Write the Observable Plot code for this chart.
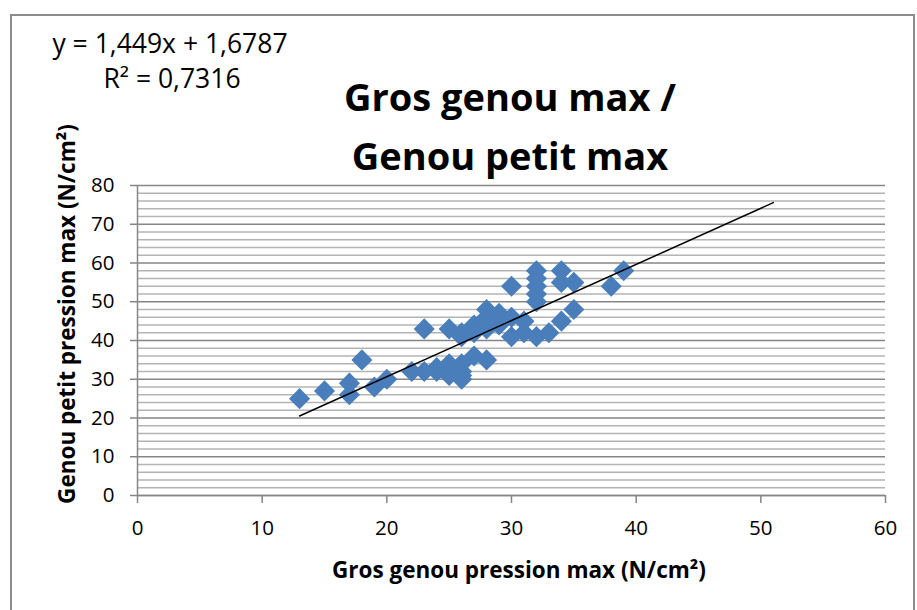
<!DOCTYPE html>
<html><head><meta charset="utf-8">
<script src="https://cdn.jsdelivr.net/npm/d3@7"></script>
<script src="https://cdn.jsdelivr.net/npm/@observablehq/plot@0.6"></script>
<style>
body{margin:0;background:#fff;}
#wrap{position:relative;width:917px;height:610px;overflow:hidden;font-family:"Open Sans",Lato,sans-serif;}
.frame{position:absolute;left:10px;top:14px;width:905px;height:620px;border:2px solid #8c8c8c;box-sizing:border-box;}
.t{position:absolute;white-space:nowrap;transform:translate(-50%,-50%);color:#000;line-height:1;}
#chart{position:absolute;left:0;top:0;}
</style></head><body>
<div id="wrap">
  <div class="frame"></div>
  <div id="chart"></div>
  <div class="t" style="left:170px;top:43px;font-size:26.5px;">y = 1,449x + 1,6787</div>
  <div class="t" style="left:172px;top:78px;font-size:26.5px;">R² = 0,7316</div>
  <div class="t" style="left:510px;top:96px;font-size:38px;font-weight:bold;">Gros genou max /</div>
  <div class="t" style="left:510px;top:155px;font-size:38px;font-weight:bold;">Genou petit max</div>
  <div class="t" style="left:519px;top:570px;font-size:22.5px;font-weight:bold;">Gros genou pression max (N/cm²)</div>
  <div class="t" style="left:67px;top:314px;font-size:22.5px;font-weight:bold;transform:translate(-50%,-50%) rotate(-90deg);">Genou petit pression max (N/cm²)</div>
</div>
<script>
// Data
const grosGenou = [13,15,17,17,18,19,20,22,23,23,24,24,25,25,25,25,26,26,26,26,26,26,27,27,27,28,28,28,28,29,29,30,30,30,31,31,32,32,32,32,32,32,33,34,34,34,35,35,38,39];
const genouPetit = [25,27,29,26,35,28,30,32,43,32,32,33,43,33,31,34,42,41,34,32,30,31,36,42,44,48,46,43,35,47,44,54,46,41,45,42,58,56,54,52,50,41,42,58,55,45,55,48,54,58];
const trendSlope = 1.449;
const trendIntercept = 1.6787;
const trendRange = [13, 51];
const xTicks = [0,10,20,30,40,50,60];
const yTicks = [0,10,20,30,40,50,60,70,80];
const yMinor = d3.range(0, 81, 2).filter(v => v % 10 !== 0);

const points = grosGenou.map((x, i) => ({x, y: genouPetit[i]}));
const trend = trendRange.map(x => ({x, y: trendSlope * x + trendIntercept}));

const chart = Plot.plot({
  width: 917, height: 610,
  marginLeft: 137, marginRight: 32, marginTop: 185, marginBottom: 115,
  style: {fontFamily: "'Open Sans', Lato, sans-serif", fontSize: "20px", color: "#000", background: "transparent", overflow: "visible"},
  x: {domain: [0, 60]},
  y: {domain: [0, 80]},
  marks: [
    Plot.gridY(yMinor, {stroke: "#b4b4b4", strokeOpacity: 1, strokeWidth: 1.5}),
    Plot.gridY(yTicks, {stroke: "#868686", strokeOpacity: 1, strokeWidth: 1.5}),
    Plot.ruleX([0], {stroke: "#868686", strokeWidth: 1.5}),
    Plot.ruleY([0], {stroke: "#868686", strokeWidth: 1.5}),
    Plot.axisY({ticks: yTicks, tickSize: 7, tickPadding: 16, stroke: "#868686", strokeWidth: 1.5, fill: "#000", label: null, fontSize: 20.5}),
    Plot.axisX({ticks: xTicks, tickSize: 8, tickPadding: 17, stroke: "#868686", strokeWidth: 1.5, fill: "#000", label: null, fontSize: 20.5}),
    Plot.dot(points, {x: "x", y: "y", symbol: "diamond2", r: 9.5, fill: "#4a7ebb"}),
    Plot.line(trend, {x: "x", y: "y", stroke: "#000", strokeWidth: 1.5})
  ]
});
document.getElementById("chart").appendChild(chart);
</script>
</body></html>
